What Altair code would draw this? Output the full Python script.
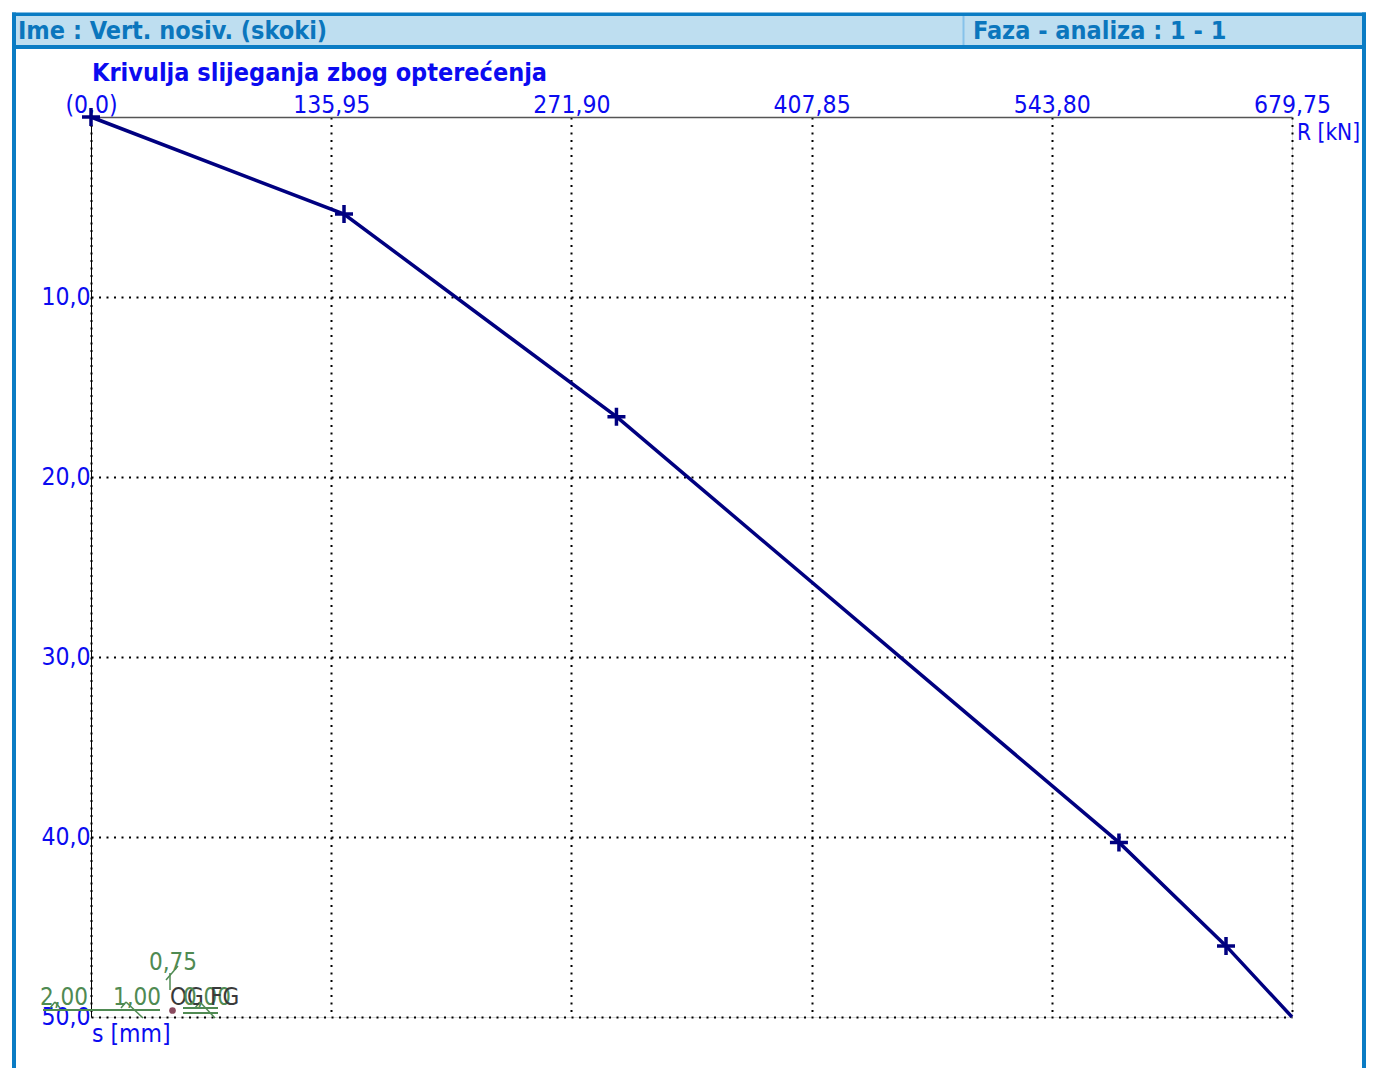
import altair as alt
import pandas as pd

# ---- data ----
R_kN = [0.0, 143.2, 297.4, 581.8, 642.4, 679.75]
s_mm = [0.0, 5.39, 16.65, 40.3, 46.05, 50.0]
has_marker = [True, True, True, True, True, False]
x_tick_values = [0.0, 135.95, 271.90, 407.85, 543.80, 679.75]
y_tick_values = [10, 20, 30, 40, 50]

header_left = "Ime : Vert. nosiv. (skoki)"
header_right = "Faza - analiza : 1 - 1"
chart_title = "Krivulja slijeganja zbog opterećenja"
x_title = "R [kN]"
y_title = "s [mm]"

# ---- styles ----
FONT = "DejaVu Sans Condensed, DejaVu Sans"
NAVY = "#000080"
LBLUE = "#0b0bf0"
FRAME = "#0a7cc4"
HEADER_FILL = "#bedef0"
HEADER_TEXT = "#0b76bd"
GREEN = "#4f8a52"
DARK = "#3a3a3a"
LS = 24.5  # label font size

W, H = 1201, 900

df = pd.DataFrame({"R": R_kN, "s": s_mm, "marker": has_marker})
one = pd.DataFrame({"a": [0]})
base = alt.Chart(one)


def rule(x1, y1, x2, y2, color, w):
    return base.mark_rule(color=color, strokeWidth=w, strokeCap="butt").encode(
        x=alt.value(x1), x2=alt.value(x2), y=alt.value(y1), y2=alt.value(y2)
    )


def text(t, x, y, color, size=LS, bold=False, align="left", baseline="alphabetic"):
    return base.mark_text(
        text=t, color=color, fontSize=size, font=FONT,
        fontWeight="bold" if bold else "normal",
        align=align, baseline=baseline,
    ).encode(x=alt.value(x), y=alt.value(y))


xscale = alt.Scale(domain=[0, 679.75], nice=False, zero=True)
yscale = alt.Scale(domain=[0, 50], nice=False, reverse=True)

x_axis = alt.Axis(
    orient="top", values=x_tick_values, title=None,
    labelExpr="datum.value == 0 ? '(0,0)' : replace(format(datum.value, '.2f'), '.', ',')",
    labelFont=FONT, labelFontSize=LS, labelColor=LBLUE,
    labelBaseline="alphabetic", labelPadding=5, labelFlush=False,
    labelOverlap=False, labelBound=False,
    ticks=False, tickSize=0,
    domainColor="#555555", domainWidth=1.5,
    grid=True, gridColor="black", gridDash=[2, 5.5], gridWidth=2, gridOpacity=1,
)
y_axis = alt.Axis(
    orient="left", values=y_tick_values, title=None,
    labelExpr="replace(format(datum.value, '.1f'), '.', ',')",
    labelFont=FONT, labelFontSize=LS, labelColor=LBLUE,
    labelBaseline="middle", labelPadding=1, labelFlush=False,
    labelOverlap=False, labelBound=False,
    ticks=False, tickSize=0,
    domainColor="black", domainWidth=1,
    grid=True, gridColor="black", gridDash=[2, 5.5], gridWidth=2, gridOpacity=1,
)

line = alt.Chart(df).mark_line(color=NAVY, strokeWidth=3.5).encode(
    x=alt.X("R:Q", scale=xscale, axis=x_axis),
    y=alt.Y("s:Q", scale=yscale, axis=y_axis),
)
crosses = alt.Chart(df).transform_filter("datum.marker").mark_point(
    shape="M-1,0H1M0,-1V1", size=324, filled=False, stroke=NAVY, strokeWidth=3.5, opacity=1
).encode(x=alt.X("R:Q", scale=xscale), y=alt.Y("s:Q", scale=yscale))

# ---- frame and header (pixel decoration relative to plot origin) ----
header_fill = base.mark_rect(color=HEADER_FILL).encode(
    x=alt.value(-75), x2=alt.value(1271), y=alt.value(-101), y2=alt.value(-72)
)
frame = [
    rule(-79, -102.7, 1275, -102.7, FRAME, 3.5),
    rule(-79, -70, 1275, -70, FRAME, 4),
    rule(-77, -104.5, -77, 980, FRAME, 4),
    rule(1273, -104.5, 1273, 980, FRAME, 4),
    rule(872.5, -101, 872.5, -72, "#86c2ea", 2),
]
texts = [
    text(header_left, -73, -78, HEADER_TEXT, size=25, bold=True),
    text(header_right, 882, -78, HEADER_TEXT, size=25, bold=True),
    text(chart_title, 1, -36, LBLUE, size=25, bold=True),
    text(x_title, 1206, 23, LBLUE, size=22.5),
    text(y_title, 1, 925, LBLUE),
]

# ---- small green coordinate glyph at bottom left ----
GS = 24
glyph = [
    rule(-48, 893, 69, 893, GREEN, 2),
    rule(92, 891, 127, 891, GREEN, 2),
    rule(92, 896, 127, 896, GREEN, 2),
    rule(-41, 891, -36, 885, GREEN, 1.5),
    rule(-36, 885, -31, 891, GREEN, 1.5),
    rule(30, 891, 35, 885, GREEN, 1.5),
    rule(35, 885, 52, 901, GREEN, 1.5),
    rule(104, 891, 109, 885, GREEN, 1.5),
    rule(109, 885, 124, 901, GREEN, 1.5),
    rule(79, 856, 79, 873, GREEN, 1.5),
    rule(75, 863, 87, 849, GREEN, 1.5),
    text("2,00", -51, 888, GREEN, size=GS),
    text("1,00", 22, 888, GREEN, size=GS),
    text("0,75", 58, 853, GREEN, size=GS),
    text("OG", 79, 888, DARK, size=GS),
    text("0,00", 92, 888, GREEN, size=GS),
    text("FG", 119, 888, DARK, size=GS),
    base.mark_point(shape="circle", size=45, filled=True, color="#8a4a5e", opacity=1).encode(
        x=alt.value(81.5), y=alt.value(893.5)
    ),
]

chart = alt.layer(
    header_fill, *frame, line, crosses, *texts, *glyph
).properties(
    width=W, height=H,
    autosize=alt.AutoSizeParams(type="none"),
    padding={"left": 83, "top": 109, "right": 74, "bottom": 51},
).configure_view(strokeWidth=0).configure(font=FONT, background="white")

chart.save("out.html", embed_options={"renderer": "svg", "actions": False})
